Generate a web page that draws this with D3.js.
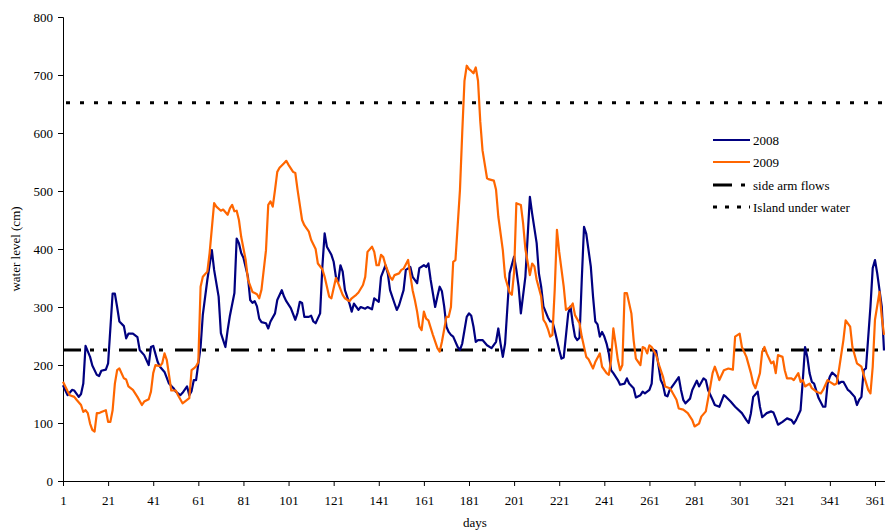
<!DOCTYPE html>
<html>
<head>
<meta charset="utf-8">
<script src="https://cdn.jsdelivr.net/npm/d3@7"></script>
<style>
  html, body { margin: 0; padding: 0; background: #fff; }
  svg { display: block; }
  svg text { font-family: "Liberation Serif", "Times New Roman", "DejaVu Serif", serif !important; }
</style>
</head>
<body>
<svg id="chart" width="885" height="532"></svg>
<script>
// ---- data ----
const days2008 = [1,3,5,6,8,9,10,11,13,14,16,17,18,20,21,23,24,25,26,28,29,30,32,34,35,37,39,40,41,43,44,46,48,50,51,53,54,56,57,58,59,60,62,63,65,67,68,70,71,73,74,75,77,78,79,80,81,83,84,85,86,87,88,89,91,92,93,95,96,98,99,100,102,104,105,106,107,108,110,111,112,113,115,116,117,118,120,121,122,123,124,125,126,128,129,130,132,133,135,136,138,139,141,142,144,145,146,148,149,150,152,153,155,156,158,159,161,162,163,164,166,167,168,169,170,171,172,173,174,176,177,178,179,180,181,182,183,184,185,187,189,191,193,194,195,196,197,199,201,202,203,204,206,207,208,209,211,212,213,214,216,217,218,219,221,222,223,225,226,227,228,229,230,231,232,233,235,236,237,238,239,240,241,242,243,244,245,247,248,250,251,252,254,255,257,258,259,261,262,263,264,265,266,267,268,269,270,272,274,275,276,277,279,280,282,283,285,286,287,289,290,292,294,295,297,299,302,304,305,306,307,309,310,311,313,315,316,317,318,320,322,324,325,326,328,329,330,331,332,333,334,336,338,339,340,341,342,344,345,346,347,349,350,352,353,354,355,356,357,359,360,361,362,364,365];
const level2008 = [165,148,157,156,145,150,168,233,214,199,183,181,190,192,203,323,323,300,275,267,246,254,254,248,226,217,200,231,233,205,197,188,168,160,154,148,152,163,148,155,174,174,231,287,347,398,364,318,255,231,260,285,324,418,410,393,385,352,312,307,310,301,280,274,272,263,275,289,312,329,318,310,298,278,290,309,307,283,283,285,275,272,289,370,427,404,390,378,352,343,372,361,329,306,292,306,295,300,297,300,296,315,309,352,372,358,329,306,295,303,329,364,369,352,341,367,372,369,375,347,300,318,335,327,301,266,257,252,249,231,226,237,260,283,289,285,266,240,243,243,234,229,240,263,237,214,237,358,387,364,335,289,352,421,490,461,410,358,335,301,282,275,275,260,226,211,213,289,301,272,249,243,247,347,438,426,370,318,275,270,249,257,249,237,220,191,186,174,166,168,177,168,160,144,148,154,151,157,168,226,224,200,174,166,148,146,157,168,179,157,140,134,142,157,173,163,177,174,157,140,131,128,148,145,137,128,117,105,100,117,145,154,128,110,117,120,118,108,97,102,108,105,99,105,122,174,231,214,186,171,168,143,128,128,168,180,187,180,168,171,171,157,154,145,131,140,145,191,194,301,367,381,358,301,225];

const days2009 = [1,3,4,6,7,9,10,11,12,13,14,15,16,17,18,20,21,22,23,24,25,26,28,29,30,32,34,36,37,39,40,41,42,44,45,46,47,48,49,51,52,54,56,57,58,59,60,61,62,63,65,66,68,69,71,72,74,75,76,77,78,79,80,82,83,85,86,87,88,89,91,92,93,94,95,96,97,99,100,101,103,104,105,107,108,110,111,113,114,116,117,119,120,122,123,125,126,128,129,131,132,134,135,136,138,139,140,141,142,143,144,146,147,148,150,151,152,154,155,156,157,158,159,160,161,162,163,165,167,168,169,171,172,173,174,175,177,178,179,180,181,182,183,184,185,186,187,189,190,192,193,194,196,197,199,200,201,202,204,205,206,208,209,210,211,213,214,215,216,217,218,219,220,221,223,224,226,227,228,230,231,233,234,236,237,239,240,242,243,244,245,246,247,248,249,250,251,253,254,255,257,258,259,260,261,262,264,265,267,268,270,271,273,274,276,278,280,281,283,284,286,288,289,290,291,292,294,296,298,299,301,302,304,306,307,308,310,311,312,313,315,316,317,318,320,321,322,324,325,327,328,329,330,332,333,335,337,338,340,341,343,344,345,347,348,350,351,353,355,356,358,359,360,361,363,364,365];
const level2009 = [171,155,148,145,140,131,119,122,117,99,88,85,117,117,119,122,102,102,122,168,191,194,177,175,163,157,145,131,137,141,154,186,200,198,203,220,209,183,156,156,148,134,140,143,191,194,198,205,335,352,361,393,479,473,466,468,459,470,476,465,466,450,421,381,347,326,324,322,315,330,398,476,482,473,502,533,540,548,552,545,533,531,502,450,441,430,416,400,375,365,352,318,315,350,341,321,315,310,315,321,325,338,352,395,404,395,372,372,390,386,372,352,347,355,358,364,366,381,355,329,312,292,266,260,292,280,277,252,229,223,240,283,283,300,378,381,502,600,690,716,710,707,703,713,690,620,570,522,520,518,502,456,398,352,325,321,360,479,476,444,400,355,375,370,347,318,278,272,262,249,252,329,433,395,335,295,300,306,286,272,249,214,210,194,205,220,197,186,183,209,263,237,209,191,200,324,324,289,243,211,200,231,229,220,234,231,217,203,180,163,160,154,140,125,123,117,105,94,99,111,120,163,186,197,186,174,191,194,192,249,254,231,214,186,168,160,186,223,231,220,203,206,186,217,214,191,177,177,174,186,171,174,163,168,160,154,151,157,174,171,166,168,191,243,277,266,231,203,197,183,157,151,197,278,326,283,252];

const sideArmLevel = 226;
const islandLevel = 652;
const xTicks = [1,21,41,61,81,101,121,141,161,181,201,221,241,261,281,301,321,341,361];
const yTicks = [0,100,200,300,400,500,600,700,800];
const seriesNames = ["2008", "2009"];
const refNames = ["side arm flows", "Island under water"];

// ---- chart ----
const FONT = "'Liberation Serif', 'Times New Roman', 'DejaVu Serif', serif";
const svg = d3.select("#chart").attr("font-family", FONT);
const x = d3.scaleLinear().domain([1, 365]).range([63, 884]);
const y = d3.scaleLinear().domain([0, 800]).range([481, 17]);

const col2008 = "#000080", col2009 = "#FF6600";
const sideDash = "18 9 4 9 4 12";
const islandDash = "4 10";

// axes
const yAxis = d3.axisLeft(y).tickValues(yTicks).tickSize(5).tickPadding(5).tickFormat(d3.format("d"));
const gy = svg.append("g").attr("transform", "translate(63,0)").call(yAxis);
const xAxis = d3.axisBottom(x).tickValues(xTicks).tickSize(5).tickPadding(10).tickFormat(d3.format("d"));
const gx = svg.append("g").attr("transform", "translate(0,481)").call(xAxis);
[gx, gy].forEach(g => {
  g.attr("font-family", FONT);
  g.select(".domain").attr("stroke", "#000").attr("stroke-width", 1);
  g.selectAll(".tick line").attr("stroke", "#000");
  g.selectAll(".tick text").attr("font-family", FONT).attr("font-size", 13).attr("fill", "#000");
});
gy.select(".domain").attr("d", "M-5,0.5H0.5V464.5").attr("transform", "translate(0,17)");
gx.select(".domain").attr("d", "M63.5,0.5H885");

// reference lines
svg.append("line").attr("x1", x(1)).attr("x2", 885).attr("y1", y(islandLevel)).attr("y2", y(islandLevel))
  .attr("stroke", "#000").attr("stroke-width", 3).attr("stroke-dasharray", islandDash).attr("stroke-dashoffset", -3);
svg.append("line").attr("x1", x(1)).attr("x2", 885).attr("y1", y(sideArmLevel)).attr("y2", y(sideArmLevel))
  .attr("stroke", "#000").attr("stroke-width", 3).attr("stroke-dasharray", sideDash);

// series
const line = d3.line().x(d => x(d[0])).y(d => y(d[1]));
const data2008 = days2008.map((d, i) => [d, level2008[i]]);
const data2009 = days2009.map((d, i) => [d, level2009[i]]);
svg.append("path").datum(data2008).attr("d", line).attr("fill", "none").attr("stroke", col2008)
  .attr("stroke-width", 2.2).attr("stroke-linejoin", "round");
svg.append("path").datum(data2009).attr("d", line).attr("fill", "none").attr("stroke", col2009)
  .attr("stroke-width", 2.2).attr("stroke-linejoin", "round");

// axis titles
svg.append("text").attr("x", 475).attr("y", 527).attr("text-anchor", "middle")
  .attr("font-family", FONT).attr("font-size", 13).text("days");
svg.append("text").attr("transform", "translate(20,249) rotate(-90)").attr("text-anchor", "middle")
  .attr("font-family", FONT).attr("font-size", 13).text("water level (cm)");

// legend
const legendItems = [
  { name: seriesNames[0], color: col2008, dash: null, w: 2.2 },
  { name: seriesNames[1], color: col2009, dash: null, w: 2.2 },
  { name: refNames[0], color: "#000", dash: "19 9 4 100", w: 3 },
  { name: refNames[1], color: "#000", dash: "4 8", w: 3 }
];
const legendY = [140, 162, 185, 207];
legendItems.forEach((it, i) => {
  const g = svg.append("g").attr("transform", `translate(713,${legendY[i]})`);
  g.append("line").attr("x1", 0).attr("x2", 37).attr("y1", 0).attr("y2", 0)
    .attr("stroke", it.color).attr("stroke-width", it.w).attr("stroke-dasharray", it.dash);
  g.append("text").attr("x", 40).attr("y", 4.5).attr("font-family", FONT).attr("font-size", 13).text(it.name);
});
</script>
</body>
</html>
